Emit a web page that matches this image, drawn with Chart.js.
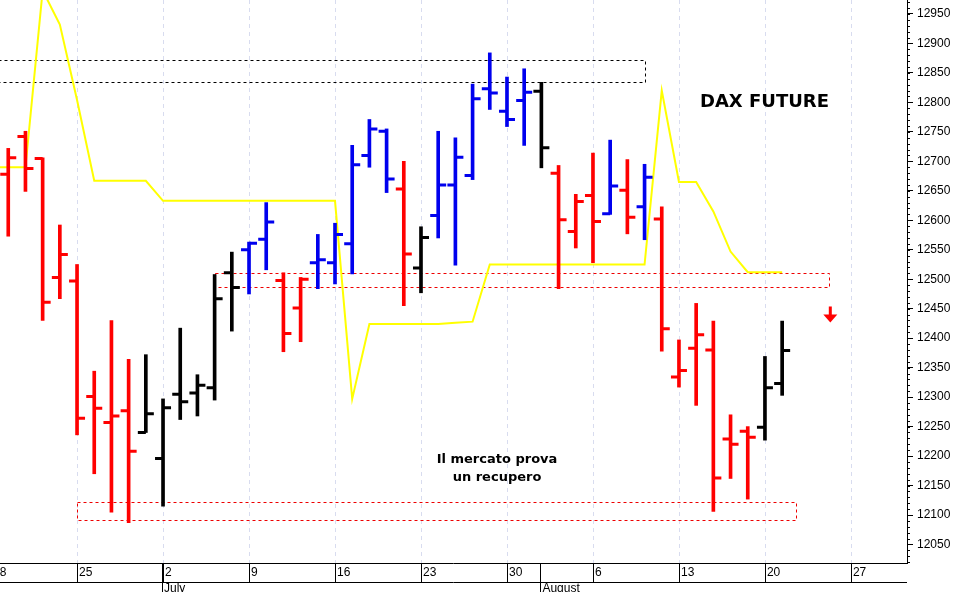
<!DOCTYPE html>
<html>
<head>
<meta charset="utf-8">
<script src="https://cdn.jsdelivr.net/npm/chart.js@4"></script>
<style>
  html, body { margin: 0; padding: 0; background: #fff; }
  #wrap { width: 957px; height: 592px; position: relative; }
</style>
</head>
<body>
<div id="wrap"><canvas id="dax"></canvas></div>
<script>
// trading day index 0 = Monday 18 June
const dayIdx = [1,2,3,4,5,6,7,8,9,10,11,12,13,14,15,16,17,18,19,20,21,22,23,24,25,26,27,28,29,30,31,32,33,34,35,36,37,38,39,40,41,42,43,44,45,46];
const opens  = [12678,12742,12705,12503,12497,12301,12257,12277,12240,12196,12305,12307,12316,12511,12550,12568,12498,12451,12528,12528,12560,12710,12751,12653,12519,12608,12660,12676,12823,12785,12803,12819,12680,12581,12642,12611,12651,12623,12602,12334,12383,12380,12229,12242,12249,12323];
const highs  = [12722,12751,12706,12592,12525,12344,12430,12364,12372,12297,12417,12338,12508,12546,12563,12630,12511,12503,12576,12595,12727,12771,12755,12700,12589,12751,12740,12831,12884,12843,12857,12834,12693,12644,12714,12736,12703,12695,12623,12397,12459,12429,12270,12250,12369,12429];
const lows   = [12573,12649,12430,12467,12236,12170,12105,12087,12240,12115,12262,12268,12295,12412,12475,12516,12377,12394,12484,12492,12509,12690,12647,12455,12477,12570,12524,12669,12788,12759,12727,12689,12484,12553,12528,12610,12577,12567,12378,12317,12286,12106,12162,12127,12227,12303];
const closes = [12706,12688,12461,12542,12264,12281,12268,12208,12272,12282,12292,12320,12467,12486,12561,12597,12408,12500,12533,12576,12694,12755,12670,12543,12571,12660,12707,12806,12816,12771,12817,12723,12601,12632,12598,12658,12605,12673,12416,12345,12406,12163,12220,12232,12316,12379];
const barCol = "rrrrrrrrkkkkkkbbrrbbbbbrkbbbbbbkrrrbrbrrrrrrkk";

// yellow stop line, one value per trading day from index 0
const stopLine = [12690,12690,12690,12990,12932,12804,12667,12667,12667,12667,12633,12633,12633,12633,12633,12633,12633,12633,12633,12633,12633,12297,12424,12424,12424,12424,12424,12426,12428,12525,12525,12525,12525,12525,12525,12525,12525,12525,12525,12820,12665,12665,12615,12547,12512,12512,12512];

// weekly labels (Mondays) and months
const mondayIdx = [0,5,10,15,20,25,30,35,40,45,50];
const mondayLbl = ["18","25","2","9","16","23","30","6","13","20","27"];
const monthIdx = [10,32];
const monthLbl = ["July","August"];

// dashed zones: [x0, x1, yLow, yHigh, colour]
const zones = [
  [-1, 38, 12835, 12872, "#000"],
  [13, 48.7, 12486, 12510, "#e00"],
  [5, 46.8, 12092, 12122, "#e00"]
];

const colMap = { r: "#ff0000", k: "#000000", b: "#0000ee" };

const ohlcTicks = {
  id: "ohlcTicks",
  beforeDatasetsDraw(chart) {
    const { ctx, chartArea: a, scales: { x, y } } = chart;
    ctx.save();
    ctx.strokeStyle = "#d8dcef";
    ctx.setLineDash([4, 4]);
    ctx.lineWidth = 1;
    mondayIdx.forEach(i => {
      const px = Math.round(x.getPixelForValue(i)) + 0.5;
      ctx.beginPath(); ctx.moveTo(px, a.top); ctx.lineTo(px, a.bottom); ctx.stroke();
    });
    ctx.setLineDash([3, 3]);
    zones.forEach(z => {
      ctx.strokeStyle = z[4];
      const x0 = x.getPixelForValue(z[0]), x1 = x.getPixelForValue(z[1]);
      const y0 = y.getPixelForValue(z[3]), y1 = y.getPixelForValue(z[2]);
      ctx.strokeRect(Math.round(x0) + 0.5, Math.round(y0) + 0.5, Math.round(x1 - x0), Math.round(y1 - y0));
    });
    ctx.restore();
  },
  afterDatasetsDraw(chart) {
    const { ctx, chartArea: a, scales: { x, y } } = chart;
    ctx.save();
    ctx.lineWidth = 3;
    dayIdx.forEach((d, k) => {
      const px = x.getPixelForValue(d);
      ctx.strokeStyle = colMap[barCol[k]];
      const yo = y.getPixelForValue(opens[k]), yc = y.getPixelForValue(closes[k]);
      ctx.beginPath();
      ctx.moveTo(px - 8, yo); ctx.lineTo(px, yo);
      ctx.moveTo(px, yc); ctx.lineTo(px + 8, yc);
      ctx.stroke();
    });
    // texts
    ctx.fillStyle = "#000";
    ctx.font = "bold 18px 'DejaVu Sans'";
    ctx.textAlign = "left"; ctx.textBaseline = "middle";
    ctx.fillText("DAX FUTURE", 700, 102);
    ctx.font = "bold 13px 'DejaVu Sans'";
    ctx.textAlign = "center";
    ctx.fillText("Il mercato prova", 497, 460);
    ctx.fillText("un recupero", 497, 478);
    // red arrow
    const ax = x.getPixelForValue(48.8), ay = y.getPixelForValue(12430);
    ctx.fillStyle = "#ff0000";
    ctx.fillRect(ax - 1.5, ay - 14, 3, 9);
    ctx.beginPath(); ctx.moveTo(ax - 7, ay - 6); ctx.lineTo(ax + 7, ay - 6); ctx.lineTo(ax, ay + 2); ctx.fill();

    // bottom date axis
    ctx.fillStyle = "#000";
    ctx.strokeStyle = "#000"; ctx.lineWidth = 1;
    const r1 = a.bottom + 19;
    ctx.beginPath();
    ctx.moveTo(0, a.bottom + 0.5); ctx.lineTo(a.right, a.bottom + 0.5);
    ctx.moveTo(0, r1 + 0.5); ctx.lineTo(a.right, r1 + 0.5);
    mondayIdx.forEach(i => {
      const px = Math.round(x.getPixelForValue(i)) + 0.5;
      if (px < a.right) { ctx.moveTo(px, a.bottom); ctx.lineTo(px, r1); }
    });
    monthIdx.forEach(i => {
      const px = Math.round(x.getPixelForValue(i) - 1) + 0.5;
      ctx.moveTo(px, a.bottom); ctx.lineTo(px, chart.height);
    });
    ctx.stroke();
    ctx.font = "12px 'Liberation Sans'";
    ctx.textAlign = "left"; ctx.textBaseline = "middle";
    mondayIdx.forEach((i, k) => {
      const px = x.getPixelForValue(i);
      ctx.fillText(mondayLbl[k], px + 2, a.bottom + 10);
    });
    monthIdx.forEach((i, k) => {
      const px = x.getPixelForValue(i) - 1;
      ctx.fillText(monthLbl[k], px + 2, r1 + 7);
    });
    // minor ticks on the price axis
    ctx.beginPath();
    for (let v = 12020; v <= 12970; v += 10) {
      const py = Math.round(y.getPixelForValue(v)) + 0.5;
      ctx.moveTo(a.right, py); ctx.lineTo(a.right + 3, py);
    }
    ctx.stroke();
    ctx.restore();
  }
};

new Chart("dax", {
  data: {
    datasets: [
      {
        type: "bar",
        data: dayIdx.map((d, k) => ({ x: d, y: [lows[k], highs[k]] })),
        backgroundColor: dayIdx.map((d, k) => colMap[barCol[k]]),
        barThickness: 3,
        borderWidth: 0
      },
      {
        type: "line",
        data: stopLine.map((v, i) => ({ x: i, y: v })),
        borderColor: "#ffff00",
        borderWidth: 2,
        pointRadius: 0,
        tension: 0
      }
    ]
  },
  options: {
    responsive: true,
    maintainAspectRatio: false,
    animation: false,
    layout: { padding: { left: 0, top: 0, right: 0, bottom: 29 } },
    plugins: { legend: { display: false }, tooltip: { enabled: false } },
    scales: {
      x: { type: "linear", min: 0.52, max: 53.26, display: false, offset: false },
      y: {
        position: "right",
        min: 12018.6, max: 12973.7,
        afterFit: s => { s.width = 50; s.paddingTop = 0; s.paddingBottom = 0; },
        afterBuildTicks: s => { s.ticks = []; for (let v = 12050; v <= 12950; v += 50) s.ticks.push({ value: v }); },
        ticks: { autoSkip: false, color: "#000", font: { family: "Liberation Sans", size: 12 }, padding: 4,
                 callback: v => String(v) },
        grid: { drawOnChartArea: false, tickLength: 6, color: "#000" },
        border: { color: "#000" }
      }
    }
  },
  plugins: [ohlcTicks]
});
</script>
</body>
</html>
